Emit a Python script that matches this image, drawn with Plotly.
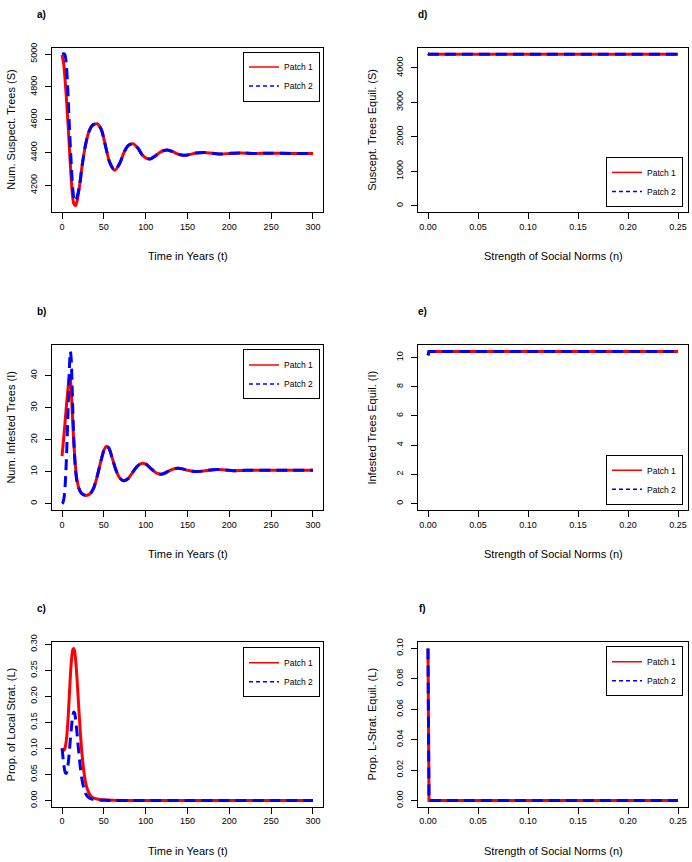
import plotly.graph_objects as go

# ---------------- data ----------------
# Panel a: susceptible trees vs time
t_S1 = [0,2,4,6,8,10,12,14,16,18,21,24,28,32,36,42,47,52,57,63,69,74,79,85,91,96,101,106,111,116,
        121,127,133,138,143,148,154,160,170,180,191,200,213,230,250,275,300]
S1 = [4995,4940,4820,4670,4500,4320,4170,4090,4076,4105,4200,4320,4445,4525,4565,4576,4540,4440,4340,4292,
      4335,4400,4443,4454,4425,4385,4365,4362,4378,4398,4411,4415,4405,4392,4385,4384,4390,4397,4401,4396,
      4392,4395,4398,4395,4396,4395,4395]
t_S2_early = [0,2,3,4,5,6,7,8,9,10,11,12,13,14,15,16,17,18]
S2_early = [5000,5003,5000,4985,4945,4870,4770,4655,4540,4430,4330,4240,4170,4125,4106,4104,4112,4128]

# Panel b: infested trees vs time
t_I1 = [0,3,5,7,8,9,10,11,12,13,14,15,16,17,18,20,23,26,30,34,38,42,46,50,53,56,60,64,68,72,
        75,79,84,89,93,97,101,106,111,115,118,122,127,132,136,139,144,150,156,162,
        168,175,185,195,205,215,228,250,275,300]
I1 = [14.8,23.5,29.8,35.5,38.3,39.8,38.8,35.2,30,24.5,19.5,15.2,11.8,9.2,7.3,4.9,3.3,2.75,2.6,3.2,
      5,8.5,12.8,16.6,17.9,17.3,14.2,10.8,8.4,7.3,7.2,7.8,9.6,11.4,12.3,12.6,12.2,11,9.9,9.35,
      9.2,9.4,10.1,10.7,11,11.05,10.85,10.4,10.1,10.0,10.15,10.45,10.65,10.5,10.3,10.35,10.45,10.4,10.4,10.4]
t_I2_early = [0,1,2,3,4,5,6,7,8,9,10,11,12,13,14,15,16,17,18]
I2_early = [0,0.3,1.2,3.2,7,12.5,19.5,27.5,36,43.5,47.5,45,37,28,20.5,14.8,11,8.3,6.6]

# Panel c: proportion of local strategists vs time
t_L = [0,1,2,3,4,5,6,7,8,9,10,11,12,13,14,15,16,17,18,19,20,22,24,26,28,30,33,36,40,45,50,
       60,80,100,150,200,250,300]
L1 = [0.100,0.097,0.096,0.098,0.104,0.114,0.130,0.152,0.180,0.210,0.240,0.264,0.281,0.290,0.292,0.287,
      0.274,0.255,0.232,0.205,0.178,0.128,0.087,0.057,0.036,0.023,0.012,0.0065,0.0035,0.002,0.0012,
      0.0005,0.0001,0,0,0,0,0]
L2 = [0.100,0.085,0.070,0.059,0.053,0.052,0.056,0.066,0.081,0.099,0.118,0.136,0.152,0.164,0.170,0.168,
      0.159,0.145,0.128,0.110,0.093,0.062,0.039,0.024,0.014,0.0085,0.0045,0.0025,0.0012,0.0006,0.0003,
      0.0001,0,0,0,0,0,0]

# Panels d-f: equilibria vs strength of social norms
n_vals = [0.0, 0.001, 0.05, 0.10, 0.15, 0.20, 0.25]
S_eq1 = [4415, 4398, 4398, 4398, 4398, 4398, 4398]
S_eq2 = [4415, 4398, 4398, 4398, 4398, 4398, 4398]
I_eq1 = [10.15, 10.41, 10.41, 10.41, 10.41, 10.41, 10.41]
I_eq2 = [10.15, 10.41, 10.41, 10.41, 10.41, 10.41, 10.41]
L_eq1 = [0.10, 0.0, 0.0, 0.0, 0.0, 0.0, 0.0]
L_eq2 = [0.10, 0.0, 0.0, 0.0, 0.0, 0.0, 0.0]

series_names = ["Patch 1", "Patch 2"]
panel_labels = ["a)", "b)", "c)", "d)", "e)", "f)"]
ytitles_left = ["Num. Suspect. Trees (S)", "Num. Infested Trees (I)", "Prop. of Local Strat. (L)"]
ytitles_right = ["Suscept. Trees Equil. (S)", "Infested Trees Equil. (I)", "Prop. L-Strat. Equil. (L)"]
xtitle_left = "Time in Years (t)"
xtitle_right = "Strength of Social Norms (n)"

# build blue series (identical to red once the two patches merge)
t_S2 = t_S2_early + [t for t in t_S1 if t > 18]
S2 = S2_early + [s for t, s in zip(t_S1, S1) if t > 18]
t_I2 = t_I2_early + [t for t in t_I1 if t > 18]
I2 = I2_early + [v for t, v in zip(t_I1, I1) if t > 18]

# ---------------- layout helpers ----------------
W, H = 692, 862
def px(x): return x / W
def py(y): return 1 - y / H

RED = "#FF0000"
BLUE = "#0000FF"
DASH = "11px,6px"
FONT = "Liberation Sans, Arial, sans-serif"

fig = go.Figure()

def rrange(vals, lo=None):
    mn = min(vals) if lo is None else lo
    mx = max(vals)
    r = mx - mn
    return [mn - 0.04 * r, mx + 0.04 * r]

panels = [
    ("", "legend", t_S1, S1, t_S2, S2, True),
    ("3", "legend3", t_I1, I1, t_I2, I2, True),
    ("5", "legend5", t_L, L1, t_L, L2, True),
    ("2", "legend2", n_vals, S_eq1, n_vals, S_eq2, False),
    ("4", "legend4", n_vals, I_eq1, n_vals, I_eq2, False),
    ("6", "legend6", n_vals, L_eq1, n_vals, L_eq2, False),
]

for ax, leg, x1, y1, x2, y2, spl in panels:
    shape = "spline" if spl else "linear"
    fig.add_trace(go.Scatter(x=x1, y=y1, mode="lines", name=series_names[0], showlegend=False,
                             line=dict(color=RED, width=3, shape=shape, smoothing=0.8),
                             xaxis="x" + ax, yaxis="y" + ax))
    fig.add_trace(go.Scatter(x=x2, y=y2, mode="lines", name=series_names[1], showlegend=False,
                             line=dict(color=BLUE, width=3, dash=DASH, shape=shape, smoothing=0.8),
                             xaxis="x" + ax, yaxis="y" + ax))
    # legend entries (thinner lines, as in the legend key of the original)
    fig.add_trace(go.Scatter(x=[None], y=[None], mode="lines", name=series_names[0],
                             line=dict(color=RED, width=1.5), xaxis="x" + ax, yaxis="y" + ax, legend=leg))
    fig.add_trace(go.Scatter(x=[None], y=[None], mode="lines", name=series_names[1],
                             line=dict(color=BLUE, width=1.5, dash="4px,3px"), xaxis="x" + ax, yaxis="y" + ax,
                             legend=leg))

xl = [px(52), px(323)]
xr = [px(418), px(688)]
r1 = [py(206), py(40)]
r2 = [py(507), py(341)]
r3 = [py(807), py(641)]

tickfont = dict(family=FONT, size=9, color="black")
common = dict(showline=True, mirror=True, linecolor="black", linewidth=1, ticks="outside",
              ticklen=6, tickcolor="black", tickwidth=1, showgrid=False, zeroline=False,
              tickfont=tickfont)
xcommon = dict(common, ticklabelstandoff=0)
ycommon = dict(common, tickangle=-90, ticklabelstandoff=4)

t_range = [0 - 0.04 * 300, 300 + 0.04 * 300]
n_range = [0 - 0.04 * 0.25, 0.25 + 0.04 * 0.25]

layout = dict(
    width=W, height=H, margin=dict(l=0, r=0, t=0, b=0),
    paper_bgcolor="white", plot_bgcolor="white",
    font=dict(family=FONT, color="black"),
    xaxis=dict(xcommon, domain=xl, anchor="y", range=t_range, tick0=0, dtick=50),
    yaxis=dict(ycommon, domain=r1, anchor="x", range=rrange(S1 + S2), tickvals=[4200, 4400, 4600, 4800, 5000], tickformat="d"),
    xaxis3=dict(xcommon, domain=xl, anchor="y3", range=t_range, tick0=0, dtick=50),
    yaxis3=dict(ycommon, domain=r2, anchor="x3", range=rrange(I1 + I2), tick0=0, dtick=10),
    xaxis5=dict(xcommon, domain=xl, anchor="y5", range=t_range, tick0=0, dtick=50),
    yaxis5=dict(ycommon, domain=r3, anchor="x5", range=rrange(L1 + L2), tick0=0, dtick=0.05, tickformat=".2f"),
    xaxis2=dict(xcommon, domain=xr, anchor="y2", range=n_range, tick0=0, dtick=0.05, tickformat=".2f"),
    yaxis2=dict(ycommon, domain=r1, anchor="x2", range=rrange(S_eq1 + S_eq2, lo=0), tick0=0, dtick=1000, tickformat="d"),
    xaxis4=dict(xcommon, domain=xr, anchor="y4", range=n_range, tick0=0, dtick=0.05, tickformat=".2f"),
    yaxis4=dict(ycommon, domain=r2, anchor="x4", range=rrange(I_eq1 + I_eq2, lo=0), tick0=0, dtick=2),
    xaxis6=dict(xcommon, domain=xr, anchor="y6", range=n_range, tick0=0, dtick=0.05, tickformat=".2f"),
    yaxis6=dict(ycommon, domain=r3, anchor="x6", range=rrange(L_eq1 + L_eq2, lo=0), tick0=0, dtick=0.02, tickformat=".2f"),
)

legfont = dict(family=FONT, size=8.5, color="black")
def legend(x, y, yanchor):
    return dict(x=x, y=y, xanchor="right", yanchor=yanchor, xref="paper", yref="paper",
                bgcolor="white", bordercolor="black", borderwidth=1, font=legfont,
                tracegroupgap=0, itemwidth=30)

layout["legend"] = legend(px(320), py(44), "top")
layout["legend3"] = legend(px(320), py(345), "top")
layout["legend5"] = legend(px(320), py(646), "top")
layout["legend2"] = legend(px(683), py(201), "bottom")
layout["legend4"] = legend(px(683), py(502), "bottom")
layout["legend6"] = legend(px(683), py(645), "top")

annotations = []
for lab, (x, y) in zip(panel_labels, [(41, 7), (41, 307), (41, 607), (423, 7), (423, 307), (423, 607)]):
    annotations.append(dict(text=lab, x=px(x), y=py(y), xref="paper", yref="paper", showarrow=False,
                            font=dict(family=FONT, size=10, color="black", weight="bold"),
                            xanchor="center", yanchor="middle"))
for i, yb in enumerate([206, 507, 807]):
    annotations.append(dict(text=xtitle_left, x=px((52 + 323) / 2), y=py(yb + 45), xref="paper", yref="paper",
                            showarrow=False, font=dict(family=FONT, size=11), xanchor="center", yanchor="middle"))
    annotations.append(dict(text=xtitle_right, x=px((418 + 688) / 2), y=py(yb + 45), xref="paper", yref="paper",
                            showarrow=False, font=dict(family=FONT, size=11), xanchor="center", yanchor="middle"))
for i, (yt, yb) in enumerate([(40, 206), (341, 507), (641, 807)]):
    annotations.append(dict(text=ytitles_left[i], x=px(11), y=py((yt + yb) / 2), xref="paper", yref="paper",
                            showarrow=False, textangle=-90, font=dict(family=FONT, size=11),
                            xanchor="center", yanchor="middle"))
    annotations.append(dict(text=ytitles_right[i], x=px(372), y=py((yt + yb) / 2), xref="paper", yref="paper",
                            showarrow=False, textangle=-90, font=dict(family=FONT, size=11),
                            xanchor="center", yanchor="middle"))
layout["annotations"] = annotations

fig.update_layout(**layout)
fig.write_html("out.html", config={"displayModeBar": False},
               post_script="document.body.style.margin='0';document.body.style.overflow='hidden';")
